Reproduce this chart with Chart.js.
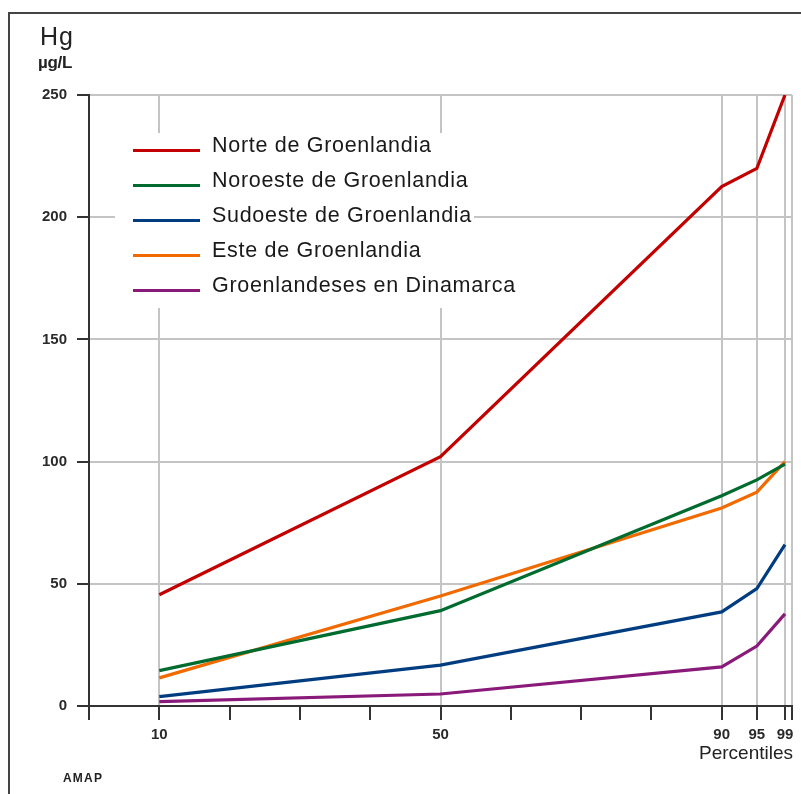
<!DOCTYPE html>
<html lang="es">
<head>
<meta charset="UTF-8">
<title>Hg percentiles</title>
<script src="https://cdn.jsdelivr.net/npm/chart.js@4.4.1/dist/chart.umd.min.js"></script>
<style>
  body { margin: 0; background: #fff; }
  #wrap { position: relative; width: 801px; height: 794px; overflow: hidden; }
  #frame { position: absolute; left: 8px; top: 12px; width: 800px; height: 800px;
           border-left: 2px solid #444; border-top: 2px solid #444; }
  .txt { position: absolute; color: #222; font-family: 'Liberation Sans', Arial, sans-serif; white-space: nowrap; }
  #legend { position: absolute; left: 115px; top: 133px; }
  .row { position: relative; height: 35px; background: #fff; min-width: 330px; width: fit-content; padding-right: 2px; }
  .row span.ln { position: absolute; left: 18px; top: 16px; width: 67px; height: 3px; }
  .row span.lb { display: inline-block; margin-left: 97px; line-height: 35px;
                 font: 21.5px 'Liberation Sans', Arial, sans-serif; letter-spacing: 0.7px; color: #1a1a1a; }
</style>
</head>
<body>
<div id="wrap">
  <canvas id="chart"></canvas>
  <div id="frame"></div>
  <div class="txt" style="left:40px; top:22px; font-size:25px; letter-spacing:1px;">Hg</div>
  <div class="txt" style="left:38px; top:53px; font-size:17px; font-weight:bold; letter-spacing:-0.3px;">µg/L</div>
  <div class="txt" style="left:699px; top:742px; font-size:19px;">Percentiles</div>
  <div class="txt" style="left:63px; top:771px; font-size:12px; font-weight:bold; letter-spacing:1.2px;">AMAP</div>
  <div id="legend"></div>
</div>
<script>
// percentiles on the x axis
var percentiles = [10, 50, 90, 95, 99];
// Hg in blood, µg/L
var norte      = [45.5, 102, 212.5, 220, 250];
var noroeste   = [14.5, 39, 86, 92.5, 99];
var sudoeste   = [3.8, 16.7, 38.5, 48, 66];
var este       = [11.5, 45, 81, 87.5, 100];
var dinamarca  = [1.8, 4.9, 16, 24.5, 37.7];

var seriesNames = ["Norte de Groenlandia", "Noroeste de Groenlandia", "Sudoeste de Groenlandia",
                   "Este de Groenlandia", "Groenlandeses en Dinamarca"];
var seriesColors = ["#c20000", "#006b2e", "#003d80", "#f06a00", "#8a1a7a"];

// ticks along the x axis; only some get a label and a grid line
var xTicks = [0, 10, 20, 30, 40, 50, 60, 70, 80, 90, 95, 99, 100];
var xLabeled = [10, 50, 90, 95, 99];
var yTicks = [0, 50, 100, 150, 200, 250];

function toPoints(vals) {
  return vals.map(function (v, i) { return { x: percentiles[i], y: v }; });
}

var allSeries = [norte, noroeste, sudoeste, este, dinamarca];
var datasets = allSeries.map(function (vals, i) {
  return {
    label: seriesNames[i],
    data: toPoints(vals),
    borderColor: seriesColors[i],
    borderWidth: 3.2,
    pointRadius: 0,
    tension: 0,
    fill: false
  };
});

var tickFont = { family: "'Liberation Sans', Arial, sans-serif", size: 15, weight: "bold" };

var chart = new Chart(document.getElementById("chart"), {
  type: "line",
  data: { datasets: datasets },
  options: {
    responsive: true,
    maintainAspectRatio: false,
    animation: false,
    layout: { padding: { left: 0, right: 9, top: 95, bottom: 0 } },
    plugins: { legend: { display: false }, tooltip: { enabled: false } },
    scales: {
      x: {
        type: "linear",
        min: 0,
        max: 100,
        afterBuildTicks: function (scale) {
          scale.ticks = xTicks.map(function (v) { return { value: v }; });
        },
        afterFit: function (scale) { scale.height = 88; },
        border: { color: "#333", width: 2 },
        grid: {
          tickLength: 14,
          tickWidth: 2,
          tickColor: "#333",
          color: function (ctx) {
            var v = ctx.tick ? ctx.tick.value : null;
            return (xLabeled.indexOf(v) >= 0 || v === 100) ? "#c4c4c4" : "rgba(0,0,0,0)";
          },
          lineWidth: 2
        },
        ticks: {
          autoSkip: false,
          maxRotation: 0,
          padding: 6,
          color: "#2a2a2a",
          font: tickFont,
          callback: function (v) { return xLabeled.indexOf(v) >= 0 ? String(v) : ""; }
        }
      },
      y: {
        min: 0,
        max: 250,
        afterBuildTicks: function (scale) {
          scale.ticks = yTicks.map(function (v) { return { value: v }; });
        },
        afterFit: function (scale) { scale.width = 89; },
        border: { color: "#333", width: 2 },
        grid: {
          tickLength: 12,
          tickWidth: 2,
          tickColor: "#333",
          color: "#c4c4c4",
          lineWidth: 2
        },
        ticks: { padding: 10, color: "#2a2a2a", font: tickFont }
      }
    }
  }
});

// legend in the plot area, built from the datasets
var legend = document.getElementById("legend");
chart.data.datasets.forEach(function (ds) {
  var row = document.createElement("div");
  row.className = "row";
  row.innerHTML = '<span class="ln" style="background:' + ds.borderColor + '"></span><span class="lb"></span>';
  row.querySelector(".lb").textContent = ds.label;
  legend.appendChild(row);
});
</script>
</body>
</html>
